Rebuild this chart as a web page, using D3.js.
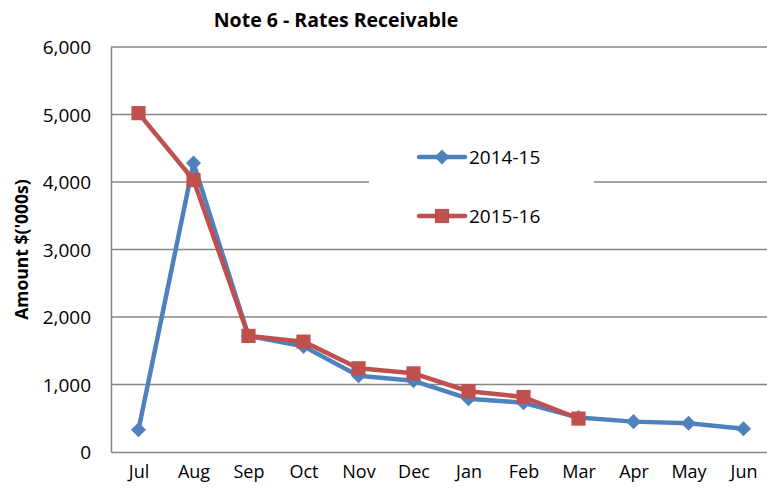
<!DOCTYPE html>
<html lang="en">
<meta charset="utf-8">
<style>
  body { margin: 0; background: #fff; }
  text { font-family: 'Open Sans', 'Noto Sans', sans-serif; fill: #000; }
</style>
<script src="https://d3js.org/d3.v7.min.js"></script>
<body>
<div id="chart"></div>
<script>
// data
var months = ['Jul', 'Aug', 'Sep', 'Oct', 'Nov', 'Dec', 'Jan', 'Feb', 'Mar', 'Apr', 'May', 'Jun'];
var s2014 = [330, 4280, 1720, 1565, 1130, 1055, 790, 730, 510, 450, 425, 345];
var s2015 = [5020, 4030, 1720, 1635, 1240, 1165, 900, 815, 495, null, null, null];
var yTicks = [0, 1000, 2000, 3000, 4000, 5000, 6000];

var w = 767, h = 493;
var pLeft = 111, pRight = 771, pTop = 47, pBottom = 452;

var svg = d3.select("#chart").append("svg")
  .attr("width", w)
  .attr("height", h);

var x = d3.scalePoint()
  .domain(months)
  .range([pLeft, pRight])
  .padding(0.5);

var y = d3.scaleLinear()
  .domain([0, 6000])
  .range([pBottom, pTop]);

// gridlines
svg.append("g")
  .selectAll("line")
  .data(yTicks.slice(1))
  .enter()
  .append("line")
    .attr("x1", pLeft)
    .attr("x2", pRight)
    .attr("y1", (d) => y(d))
    .attr("y2", (d) => y(d))
    .attr("stroke", "#868686")
    .attr("stroke-width", 1.5);

// axes
var yAxis = svg.append("g")
  .attr("transform", "translate(" + pLeft + ",0)")
  .call(d3.axisLeft(y).tickValues(yTicks).tickFormat(d3.format(",")).tickSize(0).tickPadding(20));
yAxis.select(".domain").attr("stroke", "#868686").attr("stroke-width", 1.5);
yAxis.selectAll("text").style("font-size", "19px").attr("dy", "0.35em");

var xAxis = svg.append("g")
  .attr("transform", "translate(0," + pBottom + ")")
  .call(d3.axisBottom(x).tickSize(0).tickPadding(13));
xAxis.select(".domain").attr("stroke", "#868686").attr("stroke-width", 1.5);
xAxis.selectAll("text").style("font-size", "18px");

// title & axis label
svg.append("text")
  .attr("x", 336)
  .attr("y", 27)
  .attr("text-anchor", "middle")
  .style("font-size", "19.5px")
  .style("font-weight", "bold")
  .text("Note 6 - Rates Receivable");

svg.append("text")
  .attr("transform", "translate(28," + ((pTop + pBottom) / 2) + ")rotate(-90)")
  .attr("text-anchor", "middle")
  .style("font-size", "17.5px")
  .style("font-weight", "bold")
  .text("Amount $('000s)");

var line = d3.line()
  .defined((d) => d != null)
  .x((d, i) => x(months[i]))
  .y((d) => y(d));

var diamond = d3.symbol().type(d3.symbolDiamond2).size(145);
var square = d3.symbol().type(d3.symbolSquare2).size(256);

function drawSeries(vals, color, sym) {
  svg.append("path")
    .datum(vals)
    .attr("d", line)
    .attr("fill", "none")
    .attr("stroke", color)
    .attr("stroke-width", 4.5)
    .attr("stroke-linejoin", "round");
  svg.append("g")
    .selectAll("path")
    .data(vals.map((v, i) => ({v: v, m: months[i]})).filter((d) => d.v != null))
    .enter()
    .append("path")
      .attr("d", sym)
      .attr("transform", (d) => "translate(" + x(d.m) + "," + y(d.v) + ")")
      .attr("fill", color);
}

drawSeries(s2014, "#4F81BD", diamond);
drawSeries(s2015, "#C0504D", square);

// legend
var legend = svg.append("g");
legend.append("rect")
  .attr("x", 369).attr("y", 140)
  .attr("width", 225).attr("height", 95)
  .attr("fill", "#fff");

var legItems = [
  {name: "2014-15", color: "#4F81BD", sym: diamond, y: 157},
  {name: "2015-16", color: "#C0504D", sym: square, y: 216}
];
legItems.forEach(function (it) {
  legend.append("line")
    .attr("x1", 419).attr("x2", 465)
    .attr("y1", it.y).attr("y2", it.y)
    .attr("stroke", it.color)
    .attr("stroke-width", 4.5)
    .attr("stroke-linecap", "round");
  legend.append("path")
    .attr("d", it.sym)
    .attr("transform", "translate(442," + it.y + ")")
    .attr("fill", it.color);
  legend.append("text")
    .attr("x", 469)
    .attr("y", it.y)
    .attr("dy", "0.35em")
    .style("font-size", "19px")
    .text(it.name);
});
</script>
</body>
</html>
